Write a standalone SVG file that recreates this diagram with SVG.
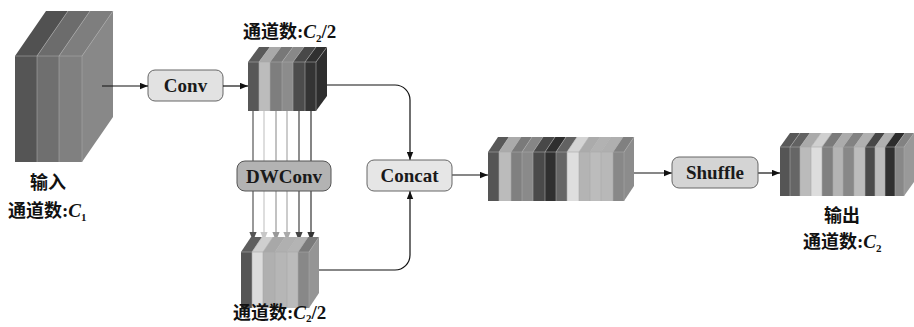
<svg xmlns="http://www.w3.org/2000/svg" width="914" height="327" viewBox="0 0 914 327">
  <style>
    .box { stroke: #666; stroke-width: 1; }
    .lbl { font-family: "Liberation Serif", "Times New Roman", serif; font-weight: bold; font-size: 19px; fill: #1a1a1a; text-anchor: middle; }
    .cap { font-family: "Noto Sans CJK SC", "Noto Sans", sans-serif; font-weight: bold; font-size: 18px; fill: #111; }
    .lat { font-family: "Liberation Serif", "Times New Roman", serif; font-weight: bold; font-size: 19px; }
    .it { font-family: "Liberation Serif", "Times New Roman", serif; font-weight: bold; font-style: italic; font-size: 19px; }
    .sub { font-family: "Liberation Serif", "Times New Roman", serif; font-weight: bold; font-size: 11px; }
    .sep { stroke: #a8a8a8; stroke-width: 0.6; fill: none; }
    .wire { fill: none; stroke: #111; stroke-width: 1.2; }
  </style>
  <defs>
    <marker id="ah" viewBox="0 0 10 8" refX="10" refY="4" markerWidth="8" markerHeight="7" markerUnits="userSpaceOnUse" orient="auto">
      <path d="M0 0 L10 4 L0 8 Z" fill="#111"/>
    </marker>
    <marker id="a1" viewBox="0 0 10 8" refX="10" refY="4" markerWidth="9" markerHeight="8" markerUnits="userSpaceOnUse" orient="auto"><path d="M0 0 L10 4 L0 8 Z" fill="#555"/></marker>
    <marker id="a2" viewBox="0 0 10 8" refX="10" refY="4" markerWidth="9" markerHeight="8" markerUnits="userSpaceOnUse" orient="auto"><path d="M0 0 L10 4 L0 8 Z" fill="#c8c8c8"/></marker>
    <marker id="a3" viewBox="0 0 10 8" refX="10" refY="4" markerWidth="9" markerHeight="8" markerUnits="userSpaceOnUse" orient="auto"><path d="M0 0 L10 4 L0 8 Z" fill="#999"/></marker>
    <marker id="a4" viewBox="0 0 10 8" refX="10" refY="4" markerWidth="9" markerHeight="8" markerUnits="userSpaceOnUse" orient="auto"><path d="M0 0 L10 4 L0 8 Z" fill="#aaa"/></marker>
    <marker id="a5" viewBox="0 0 10 8" refX="10" refY="4" markerWidth="9" markerHeight="8" markerUnits="userSpaceOnUse" orient="auto"><path d="M0 0 L10 4 L0 8 Z" fill="#444"/></marker>
    <marker id="a6" viewBox="0 0 10 8" refX="10" refY="4" markerWidth="9" markerHeight="8" markerUnits="userSpaceOnUse" orient="auto"><path d="M0 0 L10 4 L0 8 Z" fill="#333"/></marker>
  </defs>

  <rect width="914" height="327" fill="#fff"/>

  <!-- input tensor: 3 slabs -->
  <g id="input">
    <polygon points="82,56 113,11 113,117 82,162" fill="#888"/>
    <polygon points="15,56 37,56 68,11 46,11" fill="#515151"/>
    <polygon points="37,56 59,56 90,11 68,11" fill="#6c6c6c"/>
    <polygon points="59,56 82,56 113,11 90,11" fill="#7e7e7e"/>
    <rect x="15" y="56" width="22" height="106" fill="#555"/>
    <rect x="37" y="56" width="22" height="106" fill="#6f6f6f"/>
    <rect x="59" y="56" width="23" height="106" fill="#808080"/>
    <path class="sep" d="M37 162 V56 L68 11 M59 162 V56 L90 11 M82 162 V56 L113 11 M15 56 H82"/>
    <text class="cap" x="48" y="189" text-anchor="middle">输入</text>
    <text class="cap" x="8" y="217">通道数<tspan class="lat">:</tspan><tspan class="it">C</tspan><tspan class="sub" dy="4">1</tspan></text>
  </g>

  <g id="conv">
    <rect class="box" x="148" y="70" width="75" height="31" rx="7" fill="#e2e2e2"/>
    <text class="lbl" x="185.5" y="92">Conv</text>
  </g>

  <!-- 1x1 conv output: 6 channels -->
  <g id="convOut">
    <polygon points="316,62 327,47 327,96 316,111" fill="#2e2e2e"/>
    <polygon points="248,62 259,62 270,47 259,47" fill="#5a5a5a"/>
    <polygon points="259,62 270,62 281,47 270,47" fill="#a9a9a9"/>
    <polygon points="270,62 282,62 293,47 281,47" fill="#787878"/>
    <polygon points="282,62 293,62 304,47 293,47" fill="#888"/>
    <polygon points="293,62 305,62 316,47 304,47" fill="#484848"/>
    <polygon points="305,62 316,62 327,47 316,47" fill="#303030"/>
    <rect x="248" y="62" width="11" height="49" fill="#575757"/>
    <rect x="259" y="62" width="11" height="49" fill="#bcbcbc"/>
    <rect x="270" y="62" width="12" height="49" fill="#7e7e7e"/>
    <rect x="282" y="62" width="11" height="49" fill="#8c8c8c"/>
    <rect x="293" y="62" width="12" height="49" fill="#4c4c4c"/>
    <rect x="305" y="62" width="11" height="49" fill="#343434"/>
    <path class="sep" d="M259 111 V62 L270 47 M270 111 V62 L281 47 M282 111 V62 L293 47 M293 111 V62 L304 47 M305 111 V62 L316 47 M316 111 V62 L327 47 M248 62 H316"/>
    <text class="cap" x="243" y="38">通道数<tspan class="lat">:</tspan><tspan class="it">C</tspan><tspan class="sub" dy="4">2</tspan><tspan class="lat" dy="-4">/2</tspan></text>
  </g>

  <!-- per-channel paths through the depthwise conv -->
  <g id="connectors">
    <line x1="253" y1="111" x2="253" y2="241" stroke="#555" stroke-width="1.2" marker-end="url(#a1)"/>
    <line x1="264" y1="111" x2="264" y2="241" stroke="#c8c8c8" stroke-width="1.2" marker-end="url(#a2)"/>
    <line x1="276" y1="111" x2="276" y2="241" stroke="#999" stroke-width="1.2" marker-end="url(#a3)"/>
    <line x1="287" y1="111" x2="287" y2="241" stroke="#aaa" stroke-width="1.2" marker-end="url(#a4)"/>
    <line x1="299" y1="111" x2="299" y2="241" stroke="#444" stroke-width="1.2" marker-end="url(#a5)"/>
    <line x1="311" y1="111" x2="311" y2="241" stroke="#333" stroke-width="1.2" marker-end="url(#a6)"/>

    <line class="wire" x1="102" y1="86" x2="148" y2="86" marker-end="url(#ah)"/>
    <line class="wire" x1="223" y1="86" x2="248" y2="86" marker-end="url(#ah)"/>
    <path class="wire" d="M327 85 H395 A15 15 0 0 1 410 100 V160" marker-end="url(#ah)"/>
    <path class="wire" d="M318 270 H395 A15 15 0 0 0 410 255 V191" marker-end="url(#ah)"/>
    <line class="wire" x1="452" y1="175" x2="488" y2="175" marker-end="url(#ah)"/>
    <line class="wire" x1="630" y1="173" x2="672" y2="173" marker-end="url(#ah)"/>
    <line class="wire" x1="758" y1="173" x2="780" y2="173" marker-end="url(#ah)"/>
  </g>

  <g id="dwconv">
    <rect x="237" y="161" width="94" height="30" rx="8" fill="#b3b3b3" stroke="#555" stroke-width="1"/>
    <text class="lbl" x="284" y="183">DWConv</text>
  </g>

  <!-- depthwise conv output: 6 channels -->
  <g id="dwOut">
    <polygon points="309,252 319,237 319,293 309,308" fill="#959595"/>
    <polygon points="241,252 252,252 262,237 251,237" fill="#5e5e5e"/>
    <polygon points="252,252 263,252 273,237 262,237" fill="#cfcfcf"/>
    <polygon points="263,252 275,252 285,237 273,237" fill="#a8a8a8"/>
    <polygon points="275,252 287,252 297,237 285,237" fill="#b0b0b0"/>
    <polygon points="287,252 298,252 308,237 297,237" fill="#b4b4b4"/>
    <polygon points="298,252 309,252 319,237 308,237" fill="#7a7a7a"/>
    <rect x="241" y="252" width="11" height="56" fill="#555"/>
    <rect x="252" y="252" width="11" height="56" fill="#dcdcdc"/>
    <rect x="263" y="252" width="12" height="56" fill="#b0b0b0"/>
    <rect x="275" y="252" width="12" height="56" fill="#b6b6b6"/>
    <rect x="287" y="252" width="11" height="56" fill="#bbb"/>
    <rect x="298" y="252" width="11" height="56" fill="#888"/>
    <path class="sep" d="M252 308 V252 L262 237 M263 308 V252 L273 237 M275 308 V252 L285 237 M287 308 V252 L297 237 M298 308 V252 L308 237 M309 308 V252 L319 237 M241 252 H309"/>
    <text class="cap" x="233" y="319">通道数<tspan class="lat">:</tspan><tspan class="it">C</tspan><tspan class="sub" dy="3">2</tspan><tspan class="lat" dy="-3">/2</tspan></text>
  </g>

  <g id="concat">
    <rect class="box" x="367" y="160" width="85" height="31" rx="7" fill="#e6e6e6"/>
    <text class="lbl" x="409.5" y="182">Concat</text>
  </g>

  <!-- concatenated tensor: 12 channels -->
  <g id="concatOut">
    <polygon points="624,152 634,137 634,186 624,201" fill="#8c8c8c"/>
    <polygon points="488,152 499,152 509,137 498,137" fill="#585858"/>
    <polygon points="499,152 511,152 521,137 509,137" fill="#aaa"/>
    <polygon points="511,152 522,152 532,137 521,137" fill="#7a7a7a"/>
    <polygon points="522,152 533,152 543,137 532,137" fill="#868686"/>
    <polygon points="533,152 545,152 555,137 543,137" fill="#484848"/>
    <polygon points="545,152 556,152 566,137 555,137" fill="#2e2e2e"/>
    <polygon points="556,152 567,152 577,137 566,137" fill="#626262"/>
    <polygon points="567,152 579,152 589,137 577,137" fill="#d4d4d4"/>
    <polygon points="579,152 590,152 600,137 589,137" fill="#ababab"/>
    <polygon points="590,152 601,152 611,137 600,137" fill="#b2b2b2"/>
    <polygon points="601,152 613,152 623,137 611,137" fill="#afafaf"/>
    <polygon points="613,152 624,152 634,137 623,137" fill="#808080"/>
    <rect x="488" y="152" width="11" height="49" fill="#555"/>
    <rect x="499" y="152" width="12" height="49" fill="#bbb"/>
    <rect x="511" y="152" width="11" height="49" fill="#808080"/>
    <rect x="522" y="152" width="11" height="49" fill="#8a8a8a"/>
    <rect x="533" y="152" width="12" height="49" fill="#4a4a4a"/>
    <rect x="545" y="152" width="11" height="49" fill="#303030"/>
    <rect x="556" y="152" width="11" height="49" fill="#666"/>
    <rect x="567" y="152" width="12" height="49" fill="#dedede"/>
    <rect x="579" y="152" width="11" height="49" fill="#b4b4b4"/>
    <rect x="590" y="152" width="11" height="49" fill="#bcbcbc"/>
    <rect x="601" y="152" width="12" height="49" fill="#b8b8b8"/>
    <rect x="613" y="152" width="11" height="49" fill="#888"/>
    <path class="sep" d="M499 201 V152 L509 137 M511 201 V152 L521 137 M522 201 V152 L532 137 M533 201 V152 L543 137 M545 201 V152 L555 137 M556 201 V152 L566 137 M567 201 V152 L577 137 M579 201 V152 L589 137 M590 201 V152 L600 137 M601 201 V152 L611 137 M613 201 V152 L623 137 M624 201 V152 L634 137 M488 152 H624"/>
  </g>

  <g id="shuffle">
    <rect class="box" x="672" y="157" width="86" height="31" rx="7" fill="#d4d4d4"/>
    <text class="lbl" x="715" y="179">Shuffle</text>
  </g>

  <!-- shuffled output: 12 channels -->
  <g id="output">
    <polygon points="904,147 914,133 914,182 904,196" fill="#999"/>
    <polygon points="780,147 790,147 800,133 790,133" fill="#585858"/>
    <polygon points="790,147 800,147 810,133 800,133" fill="#626262"/>
    <polygon points="800,147 811,147 821,133 810,133" fill="#aaa"/>
    <polygon points="811,147 822,147 832,133 821,133" fill="#d0d0d0"/>
    <polygon points="822,147 833,147 843,133 832,133" fill="#7a7a7a"/>
    <polygon points="833,147 843,147 853,133 843,133" fill="#ababab"/>
    <polygon points="843,147 854,147 864,133 853,133" fill="#828282"/>
    <polygon points="854,147 865,147 875,133 864,133" fill="#b0b0b0"/>
    <polygon points="865,147 875,147 885,133 875,133" fill="#474747"/>
    <polygon points="875,147 885,147 895,133 885,133" fill="#b0b0b0"/>
    <polygon points="885,147 895,147 905,133 895,133" fill="#2c2c2c"/>
    <polygon points="895,147 904,147 914,133 905,133" fill="#828282"/>
    <rect x="780" y="147" width="10" height="49" fill="#555"/>
    <rect x="790" y="147" width="10" height="49" fill="#666"/>
    <rect x="800" y="147" width="11" height="49" fill="#bbb"/>
    <rect x="811" y="147" width="11" height="49" fill="#ddd"/>
    <rect x="822" y="147" width="11" height="49" fill="#808080"/>
    <rect x="833" y="147" width="10" height="49" fill="#b4b4b4"/>
    <rect x="843" y="147" width="11" height="49" fill="#888"/>
    <rect x="854" y="147" width="11" height="49" fill="#bcbcbc"/>
    <rect x="865" y="147" width="10" height="49" fill="#4a4a4a"/>
    <rect x="875" y="147" width="10" height="49" fill="#bbb"/>
    <rect x="885" y="147" width="10" height="49" fill="#303030"/>
    <rect x="895" y="147" width="9" height="49" fill="#888"/>
    <path class="sep" d="M790 196 V147 L800 133 M800 196 V147 L810 133 M811 196 V147 L821 133 M822 196 V147 L832 133 M833 196 V147 L843 133 M843 196 V147 L853 133 M854 196 V147 L864 133 M865 196 V147 L875 133 M875 196 V147 L885 133 M885 196 V147 L895 133 M895 196 V147 L905 133 M904 196 V147 L914 133 M780 147 H904"/>
    <text class="cap" x="842" y="222" text-anchor="middle">输出</text>
    <text class="cap" x="803" y="248">通道数<tspan class="lat">:</tspan><tspan class="it">C</tspan><tspan class="sub" dy="4">2</tspan></text>
  </g>
</svg>
